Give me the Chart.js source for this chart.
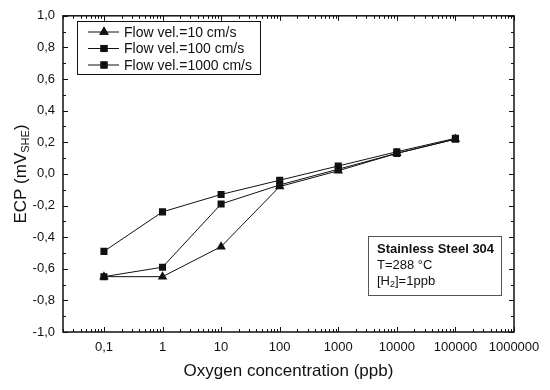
<!DOCTYPE html>
<html>
<head>
<meta charset="utf-8">
<script src="https://cdn.jsdelivr.net/npm/chart.js@4.4.0/dist/chart.umd.min.js"></script>
<style>
  body { margin: 0; background: #fff; }
  canvas { display: block; }
</style>
</head>
<body>
<canvas id="ecpChart" width="550" height="390"></canvas>
<script>
// oxygen concentration (ppb)
const oxygen = [0.1, 1, 10, 100, 1000, 10000, 100000];
const vel10 = [-0.65, -0.65, -0.46, -0.08, 0.02, 0.13, 0.22];
const vel100 = [-0.65, -0.59, -0.19, -0.07, 0.03, 0.13, 0.22];
const vel1000 = [-0.49, -0.24, -0.13, -0.04, 0.05, 0.14, 0.225];
const seriesLabels = ['Flow vel.=10 cm/s', 'Flow vel.=100 cm/s', 'Flow vel.=1000 cm/s'];
const xMajorTicks = [0.1, 1, 10, 100, 1000, 10000, 100000, 1000000];
const noteLines = ['Stainless Steel 304', 'T=288 °C', '[H2]=1ppb'];

const FONT = '"Liberation Sans", Arial, sans-serif';

const toPoints = (ys) => ys.map((y, i) => ({ x: oxygen[i], y: y }));

// all 1..9 x 10^k positions between min and max for the minor ticks
const logTicks = (min, max) => {
  const out = [];
  for (let e = -2; e <= 6; e++) {
    for (let m = 1; m <= 9; m++) {
      const v = parseFloat((m * Math.pow(10, e)).toPrecision(6));
      if (v >= min && v <= max) out.push({ value: v });
    }
  }
  return out;
};

const isMajorX = (v) => xMajorTicks.some(t => Math.abs(t - v) / t < 1e-6);
const isMajorY = (v) => Math.abs(Math.round(v * 10)) % 2 === 0;

// inward tick marks on all four sides + frame
const frameTicks = {
  id: 'frameTicks',
  afterDraw(chart) {
    const { ctx, chartArea: a, scales } = chart;
    ctx.save();
    ctx.strokeStyle = '#111';
    ctx.lineWidth = 1;
    scales.x.ticks.forEach(t => {
      const px = Math.round(scales.x.getPixelForValue(t.value)) + 0.5;
      const len = isMajorX(t.value) ? 5 : 3;
      ctx.beginPath();
      ctx.moveTo(px, a.bottom); ctx.lineTo(px, a.bottom - len);
      ctx.moveTo(px, a.top); ctx.lineTo(px, a.top + len);
      ctx.stroke();
    });
    scales.y.ticks.forEach(t => {
      const py = Math.round(scales.y.getPixelForValue(t.value)) + 0.5;
      const len = isMajorY(t.value) ? 5 : 3;
      ctx.beginPath();
      ctx.moveTo(a.left, py); ctx.lineTo(a.left + len, py);
      ctx.moveTo(a.right, py); ctx.lineTo(a.right - len, py);
      ctx.stroke();
    });
    ctx.lineWidth = 1.5;
    ctx.strokeRect(a.left, a.top, a.right - a.left, a.bottom - a.top);
    ctx.restore();
  }
};

// legend box, note box and axis titles (with subscripts)
const extras = {
  id: 'extras',
  afterDraw(chart) {
    const { ctx, chartArea: a } = chart;
    ctx.save();
    ctx.fillStyle = '#111';
    ctx.strokeStyle = '#111';

    // legend
    ctx.lineWidth = 1;
    ctx.strokeRect(77.5, 21.5, 183, 53);
    ctx.font = '14px ' + FONT;
    ctx.textBaseline = 'middle';
    chart.data.datasets.forEach((ds, i) => {
      const y = 32 + i * 16.5;
      ctx.beginPath();
      ctx.moveTo(88, y); ctx.lineTo(119, y);
      ctx.stroke();
      Chart.helpers.drawPoint(ctx, { pointStyle: ds.pointStyle, radius: ds.pointRadius, borderWidth: 0 }, 104, y);
      ctx.fill();
      ctx.fillText(seriesLabels[i], 124, y + 1);
    });

    // note box
    ctx.strokeStyle = '#555';
    ctx.strokeRect(368.5, 236.5, 133, 59);
    ctx.font = 'bold 13px ' + FONT;
    ctx.fillText(noteLines[0], 377, 249);
    ctx.font = '13px ' + FONT;
    ctx.fillText(noteLines[1], 377, 265);
    let x = 377;
    ctx.fillText('[H', x, 281);
    x += ctx.measureText('[H').width;
    ctx.font = '9px ' + FONT;
    ctx.fillText('2', x, 285);
    x += ctx.measureText('2').width;
    ctx.font = '13px ' + FONT;
    ctx.fillText(']=1ppb', x, 281);

    // x title
    ctx.font = '17px ' + FONT;
    ctx.textAlign = 'center';
    ctx.fillText('Oxygen concentration (ppb)', (a.left + a.right) / 2, 371);

    // y title, rotated
    ctx.translate(21, 174);
    ctx.rotate(-Math.PI / 2);
    ctx.textAlign = 'left';
    const p1 = 'ECP (mV', p2 = 'SHE', p3 = ')';
    ctx.font = '17px ' + FONT;
    const w1 = ctx.measureText(p1).width, w3 = ctx.measureText(p3).width;
    ctx.font = '11px ' + FONT;
    const w2 = ctx.measureText(p2).width;
    let sx = -(w1 + w2 + w3) / 2;
    ctx.font = '17px ' + FONT;
    ctx.fillText(p1, sx, 0);
    sx += w1;
    ctx.font = '11px ' + FONT;
    ctx.fillText(p2, sx, 5);
    sx += w2;
    ctx.font = '17px ' + FONT;
    ctx.fillText(p3, sx, 0);
    ctx.restore();
  }
};

const makeSet = (label, ys, style, r) => ({
  label: label,
  data: toPoints(ys),
  borderColor: '#111',
  backgroundColor: '#111',
  borderWidth: 1,
  pointStyle: style,
  pointRadius: r,
  pointBorderWidth: 0,
  tension: 0,
  fill: false
});

new Chart(document.getElementById('ecpChart'), {
  type: 'line',
  data: {
    datasets: [
      makeSet(seriesLabels[0], vel10, 'triangle', 5.5),
      makeSet(seriesLabels[1], vel100, 'rect', 5),
      makeSet(seriesLabels[2], vel1000, 'rect', 5)
    ]
  },
  options: {
    responsive: false,
    animation: false,
    layout: { padding: { top: 12, right: 36, left: 0, bottom: 0 } },
    plugins: {
      legend: { display: false },
      tooltip: { enabled: false }
    },
    scales: {
      x: {
        type: 'logarithmic',
        min: 0.02,
        max: 1000000,
        afterBuildTicks: (scale) => { scale.ticks = logTicks(0.02, 1000000); },
        afterFit: (scale) => { scale.height = 58; },
        grid: { display: false, drawTicks: false },
        border: { display: false },
        ticks: {
          autoSkip: false,
          maxRotation: 0,
          padding: 8,
          color: '#111',
          font: { family: FONT, size: 13 },
          callback: (v) => isMajorX(v) ? String(v).replace('.', ',') : ''
        }
      },
      y: {
        min: -1,
        max: 1,
        afterFit: (scale) => { scale.width = 63; },
        grid: { display: false, drawTicks: false },
        border: { display: false },
        ticks: {
          stepSize: 0.1,
          autoSkip: false,
          padding: 8,
          color: '#111',
          font: { family: FONT, size: 13 },
          callback: (v) => {
            if (!isMajorY(v)) return '';
            if (Math.abs(v) < 1e-9) return '0,0';
            return v.toFixed(1).replace('.', ',');
          }
        }
      }
    }
  },
  plugins: [frameTicks, extras]
});
</script>
</body>
</html>
